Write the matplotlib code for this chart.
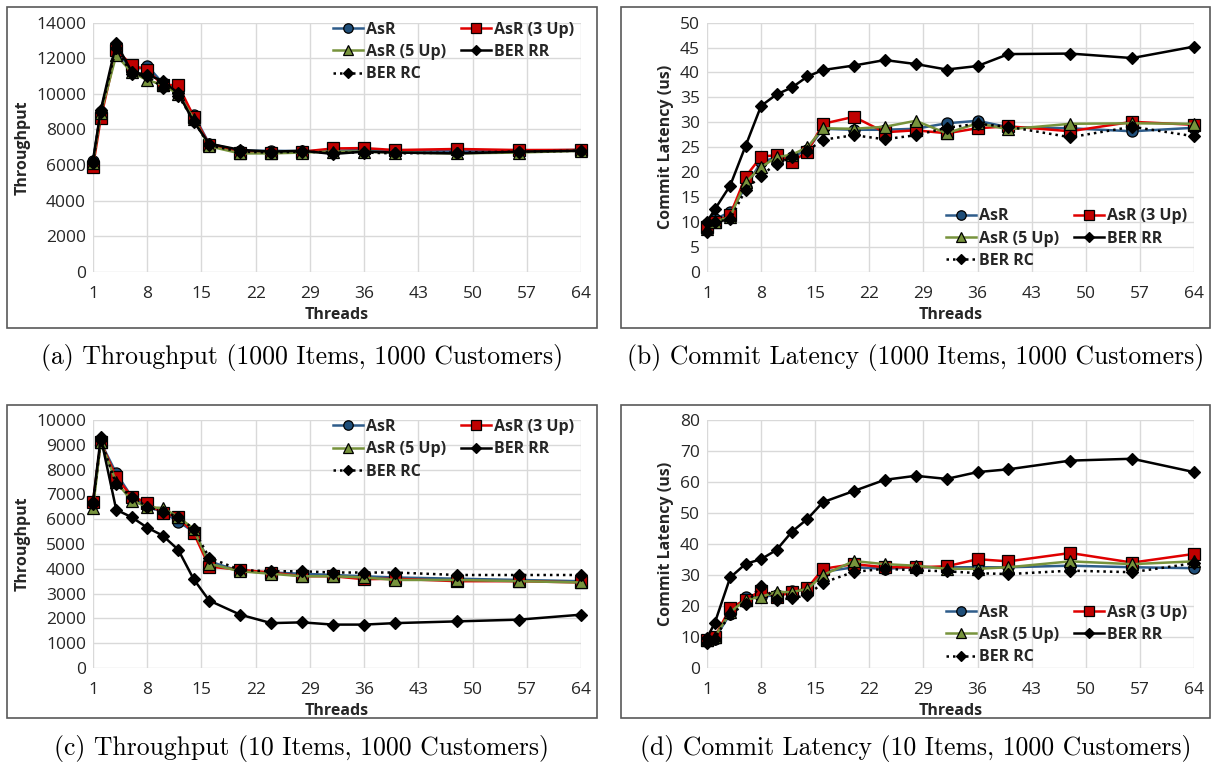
import matplotlib
matplotlib.use("Agg")
import matplotlib.pyplot as plt
from matplotlib.patches import Rectangle

plt.rcParams['font.family'] = ['Open Sans', 'DejaVu Sans']

threads = [1, 2, 4, 6, 8, 10, 12, 14, 16, 20, 24, 28, 32, 36, 40, 48, 56, 64]
x_ticks = [1, 8, 15, 22, 29, 36, 43, 50, 57, 64]

series_names = ["AsR", "AsR (3 Up)", "AsR (5 Up)", "BER RR", "BER RC"]

# (a) throughput, 1000 items
tput_a_asr = [6200, 9000, 12500, 11300, 11580, 10600, 10100, 8810, 7200, 6800, 6800, 6780, 6800, 6850, 6750, 6800, 6800, 6850]
tput_a_3up = [5900, 8620, 12460, 11620, 11340, 10500, 10490, 8720, 7150, 6700, 6700, 6750, 6930, 6950, 6840, 6900, 6840, 6850]
tput_a_5up = [6100, 8900, 12180, 11200, 10780, 10500, 10000, 8600, 7050, 6650, 6650, 6700, 6750, 6750, 6700, 6650, 6700, 6800]
tput_a_rr = [6250, 9090, 12840, 11240, 11060, 10740, 10030, 8430, 7200, 6850, 6750, 6800, 6620, 6750, 6700, 6650, 6750, 6800]
tput_a_rc = [6100, 9000, 12600, 11100, 11000, 10350, 9900, 8500, 7100, 6750, 6700, 6750, 6700, 6700, 6650, 6700, 6750, 6800]

# (b) commit latency, 1000 items
lat_b_asr = [9.5, 10.5, 12.0, 17.0, 22.0, 23.0, 23.0, 24.5, 28.7, 28.5, 28.5, 28.7, 29.8, 30.3, 29.0, 28.8, 28.2, 28.9]
lat_b_3up = [9.0, 10.0, 11.4, 19.1, 23.1, 23.4, 22.1, 24.1, 29.7, 31.1, 28.0, 28.4, 27.8, 28.8, 29.2, 28.2, 30.1, 29.5]
lat_b_5up = [8.5, 10.0, 11.0, 18.0, 21.0, 23.0, 23.5, 25.0, 28.8, 28.7, 29.1, 30.3, 27.8, 29.8, 28.6, 29.7, 29.8, 29.7]
lat_b_rr = [10.0, 12.5, 17.3, 25.3, 33.3, 35.6, 37.0, 39.2, 40.5, 41.4, 42.5, 41.7, 40.6, 41.3, 43.7, 43.8, 42.9, 45.2]
lat_b_rc = [8.0, 10.0, 10.5, 16.5, 19.3, 21.7, 23.0, 24.3, 26.5, 27.4, 26.6, 27.4, 28.9, 29.7, 29.1, 27.0, 29.1, 27.2]

# (c) throughput, 10 items
tput_c_asr = [6600, 9100, 7850, 6900, 6500, 6300, 5900, 5500, 4300, 3900, 3850, 3800, 3750, 3700, 3650, 3600, 3550, 3500]
tput_c_3up = [6700, 9100, 7690, 6910, 6670, 6240, 6100, 5440, 4090, 3960, 3850, 3700, 3700, 3580, 3600, 3500, 3500, 3450]
tput_c_5up = [6440, 9100, 7500, 6750, 6500, 6440, 6100, 5600, 4200, 3900, 3800, 3700, 3700, 3650, 3550, 3550, 3500, 3450]
tput_c_rr = [6700, 9300, 6380, 6080, 5660, 5340, 4770, 3580, 2720, 2150, 1810, 1840, 1750, 1750, 1810, 1880, 1950, 2150]
tput_c_rc = [6600, 9200, 7400, 6900, 6500, 6300, 6100, 5600, 4450, 3950, 3900, 3900, 3850, 3850, 3850, 3750, 3750, 3750]

# (d) commit latency, 10 items
lat_d_asr = [9.0, 9.5, 17.5, 23.0, 23.0, 23.5, 25.0, 25.0, 31.0, 32.5, 32.0, 32.5, 32.5, 32.5, 32.5, 33.0, 32.5, 32.2]
lat_d_3up = [9.0, 10.0, 19.3, 22.0, 25.0, 23.0, 24.5, 25.8, 32.0, 33.5, 32.5, 32.5, 32.8, 35.1, 34.4, 37.1, 34.0, 36.8]
lat_d_5up = [9.0, 10.0, 18.0, 22.0, 23.0, 24.5, 24.5, 25.5, 30.0, 34.5, 33.5, 33.0, 32.0, 32.0, 32.5, 34.4, 33.5, 34.4]
lat_d_rr = [9.7, 14.5, 29.2, 33.6, 35.1, 38.1, 44.0, 48.1, 53.5, 57.1, 60.7, 62.0, 61.0, 63.2, 64.1, 66.9, 67.5, 63.2]
lat_d_rc = [8.0, 9.5, 17.5, 20.5, 26.6, 22.0, 22.5, 23.5, 27.5, 31.0, 32.0, 31.5, 31.2, 30.6, 30.3, 31.4, 30.9, 33.8]

captions = [
    "(a) Throughput (1000 Items, 1000 Customers)",
    "(b) Commit Latency (1000 Items, 1000 Customers)",
    "(c) Throughput (10 Items, 1000 Customers)",
    "(d) Commit Latency (10 Items, 1000 Customers)",
]

styles = [
    dict(color="#2E5C8A", marker="o", mfc="#1F4E79", ms=8, ls="-"),
    dict(color="#E00000", marker="s", mfc="#C00000", ms=8.5, ls="-"),
    dict(color="#77933C", marker="^", mfc="#77933C", ms=9, ls="-"),
    dict(color="black", marker="D", mfc="black", ms=6.5, ls="-"),
    dict(color="black", marker="D", mfc="black", ms=6.5, ls=(0, (1, 1.6))),
]

W, H = 1211, 773
fig = plt.figure(figsize=(W / 100, H / 100), dpi=100)

TEXT = "#262626"
GRID = "#D9D9D9"


def px_axes(left, top, right, bottom):
    return fig.add_axes([left / W, 1 - bottom / H, (right - left) / W, (bottom - top) / H])


def frame(left, top, right, bottom):
    fig.patches.append(Rectangle((left / W, 1 - bottom / H), (right - left) / W, (bottom - top) / H,
                                 transform=fig.transFigure, fill=False, edgecolor="#595959",
                                 linewidth=1.2, zorder=0))


panels = [
    dict(data=[tput_a_asr, tput_a_3up, tput_a_5up, tput_a_rr, tput_a_rc], ylim=(0, 14000), ystep=2000,
         ylabel="Throughput", box=(7, 7, 597, 328), area=(93, 22.7, 581, 271.7),
         legend="upper", cap_y=358),
    dict(data=[lat_b_asr, lat_b_3up, lat_b_5up, lat_b_rr, lat_b_rc], ylim=(0, 50), ystep=5,
         ylabel="Commit Latency (us)", box=(621, 7, 1210, 328), area=(707, 22.7, 1194, 271.7),
         legend="lower", cap_y=358),
    dict(data=[tput_c_asr, tput_c_3up, tput_c_5up, tput_c_rr, tput_c_rc], ylim=(0, 10000), ystep=1000,
         ylabel="Throughput", box=(7, 405, 597, 718), area=(93, 420, 581, 668),
         legend="upper", cap_y=749),
    dict(data=[lat_d_asr, lat_d_3up, lat_d_5up, lat_d_rr, lat_d_rc], ylim=(0, 80), ystep=10,
         ylabel="Commit Latency (us)", box=(621, 405, 1210, 718), area=(707, 420, 1194, 668),
         legend="lower", cap_y=749),
]

for p, cap in zip(panels, captions):
    frame(*p["box"])
    ax = px_axes(*p["area"])
    handles = []
    for vals, name, st in zip(p["data"], series_names, styles):
        h, = ax.plot(threads, vals, color=st["color"], ls=st["ls"], lw=1.8, marker=st["marker"],
                     ms=st["ms"], mfc=st["mfc"], mec="black", mew=0.9, label=name, clip_on=False)
        handles.append(h)
    ax.set_xlim(1, 64)
    ax.set_ylim(*p["ylim"])
    ax.set_xticks(x_ticks)
    lo, hi = p["ylim"]
    ax.set_yticks(list(range(lo, hi + 1, p["ystep"])))
    ax.grid(True, color=GRID, lw=1.0)
    ax.set_axisbelow(True)
    for s in ax.spines.values():
        s.set_visible(False)
    ax.tick_params(length=0, labelsize=12.5, labelcolor=TEXT)
    ax.tick_params(axis="x", pad=10)
    ax.tick_params(axis="y", pad=5)
    ax.set_ylabel(p["ylabel"], fontsize=11.5, fontweight="bold", color=TEXT, labelpad=4)
    ax.set_xlabel("Threads", fontsize=11.5, fontweight="bold", color=TEXT, labelpad=4)
    order = [0, 2, 4, 1, 3]
    if p["legend"] == "upper":
        loc, anchor = "upper right", (1.0, 1.03)
    else:
        loc, anchor = "lower right", (1.0, -0.015)
    ax.legend([handles[i] for i in order], [series_names[i] for i in order], ncol=2, loc=loc,
              bbox_to_anchor=anchor, frameon=False, prop=dict(weight="bold", size=11.5),
              handlelength=1.9, markerscale=0.85, handletextpad=0.2, columnspacing=0.9,
              labelspacing=0.4, borderaxespad=0.2, borderpad=0.2, labelcolor=TEXT)
    bx0, _, bx1, _ = p["box"]
    fig.text((bx0 + bx1) / 2 / W, 1 - p["cap_y"] / H, cap, ha="center", va="center",
             family="cmr10", fontsize=18.5, color="black")

fig.savefig("out.png", dpi=100)
